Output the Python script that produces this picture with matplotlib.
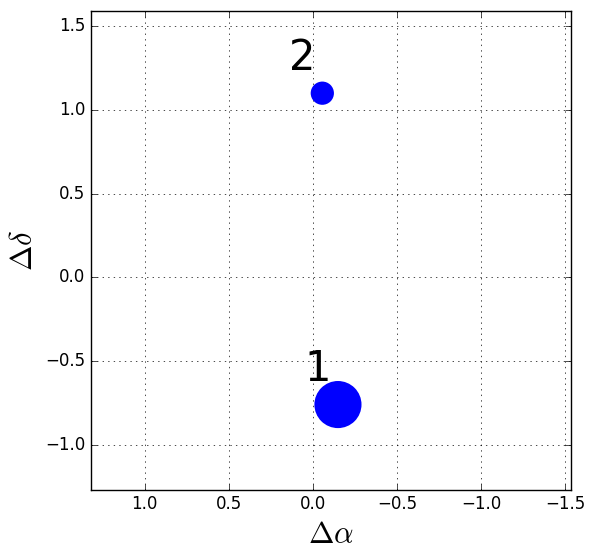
import numpy as np
import matplotlib.pyplot as plt

plt.style.use('classic')

# Component offsets
labels = ['1', '2']
d_alpha = [-0.15, -0.057]
d_delta = [-0.76, 1.10]
flux = [1150, 280]  # marker area

fig = plt.figure(figsize=(5.93, 5.58), dpi=100)
ax = fig.add_axes([0.153, 0.122, 0.81, 0.858])

ax.scatter(d_alpha, d_delta, s=flux, color='b', edgecolors='none', zorder=3)
for lab, x, y in zip(labels, d_alpha, d_delta):
    ax.text(x + 0.2, y + 0.14, lab, fontsize=30, ha='left', va='baseline')

ax.set_xlim(1.32, -1.536)
ax.set_ylim(-1.27, 1.59)
ax.set_xticks([1.0, 0.5, 0.0, -0.5, -1.0, -1.5])
ax.set_yticks([-1.0, -0.5, 0.0, 0.5, 1.0, 1.5])
ax.grid(True)
ax.set_xlabel(r'$\Delta\alpha$', fontsize=22)
ax.set_ylabel(r'$\Delta\delta$', fontsize=22)

fig.savefig('out.png', dpi=100)
